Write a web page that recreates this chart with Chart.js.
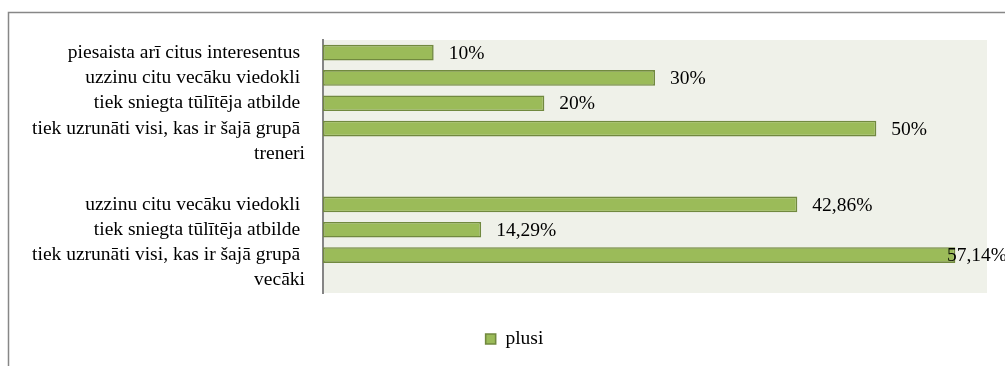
<!DOCTYPE html>
<html>
<head>
<meta charset="utf-8">
<script src="https://cdn.jsdelivr.net/npm/chart.js@4.4.1/dist/chart.umd.min.js"></script>
<style>
  html, body { margin: 0; padding: 0; background: #ffffff; }
  #wrap { width: 1005px; height: 366px; }
</style>
</head>
<body>
<div id="wrap"><canvas id="c" width="1005" height="366"></canvas></div>
<script>
// Survey answers, top to bottom; group names sit on their own rows
const categories = [
  'piesaista arī citus interesentus ',
  'uzzinu citu vecāku viedokli ',
  'tiek sniegta tūlītēja atbilde ',
  'tiek uzrunāti visi, kas ir šajā grupā ',
  'treneri',
  '',
  'uzzinu citu vecāku viedokli ',
  'tiek sniegta tūlītēja atbilde ',
  'tiek uzrunāti visi, kas ir šajā grupā ',
  'vecāki'
];
const seriesName = 'plusi';
const plusiValues = [10, 30, 20, 50, null, null, 42.86, 14.29, 57.14, null];
const axisMin = 0;
const axisMax = 60;

const serif = "'Liberation Serif', 'Times New Roman', serif";
const textSize = 19.5;

function formatPercent(v) {
  return String(v).replace('.', ',') + '%';
}

// Plot-area fill and the outer frame line
const backdrop = {
  id: 'backdrop',
  beforeDraw(chart) {
    const { ctx, chartArea: a } = chart;
    ctx.save();
    ctx.fillStyle = '#eff1e9';
    ctx.fillRect(a.left, a.top, a.right - a.left, a.bottom - a.top);
    ctx.strokeStyle = '#878787';
    ctx.lineWidth = 1.5;
    ctx.beginPath();
    ctx.moveTo(8.5, chart.height + 2);
    ctx.lineTo(8.5, 12.5);
    ctx.lineTo(chart.width + 2, 12.5);
    ctx.stroke();
    ctx.restore();
  },
  afterLayout(chart) {
    // centre the legend row under the whole frame
    chart.legend.left = 42;
  }
};

// Value labels at the end of each bar
const valueLabels = {
  id: 'valueLabels',
  afterDatasetsDraw(chart) {
    const { ctx } = chart;
    const meta = chart.getDatasetMeta(0);
    ctx.save();
    ctx.font = textSize + 'px ' + serif;
    ctx.fillStyle = '#000000';
    ctx.textAlign = 'left';
    ctx.textBaseline = 'middle';
    meta.data.forEach((bar, i) => {
      const v = chart.data.datasets[0].data[i];
      if (v === null || v === undefined) return;
      const text = formatPercent(v);
      const w = ctx.measureText(text).width;
      const x = Math.min(bar.x + 15, chart.width - w + 2);
      ctx.fillText(text, x, bar.y + 1);
    });
    ctx.restore();
  }
};

new Chart(document.getElementById('c'), {
  type: 'bar',
  data: {
    labels: categories,
    datasets: [{
      label: seriesName,
      data: plusiValues,
      backgroundColor: '#9bbb59',
      borderColor: '#71893f',
      borderWidth: 1.6,
      borderSkipped: false,
      barPercentage: 0.62,
      categoryPercentage: 1
    }]
  },
  options: {
    indexAxis: 'y',
    responsive: false,
    animation: false,
    devicePixelRatio: 1,
    layout: { padding: { top: 40, right: 18, bottom: 7.25, left: 0 } },
    scales: {
      x: { display: false, min: axisMin, max: axisMax },
      y: {
        grid: { display: false, drawTicks: false },
        border: { display: true, color: '#858585', width: 2 },
        ticks: {
          autoSkip: false,
          color: '#000000',
          padding: 18,
          font: { family: serif, size: textSize }
        },
        afterFit(scale) { scale.width = 323; }
      }
    },
    plugins: {
      legend: {
        display: true,
        position: 'bottom',
        labels: {
          color: '#000000',
          font: { family: serif, size: textSize },
          boxWidth: 10,
          boxHeight: 10,
          padding: 36.25
        }
      },
      tooltip: { enabled: false }
    }
  },
  plugins: [backdrop, valueLabels]
});
</script>
</body>
</html>
